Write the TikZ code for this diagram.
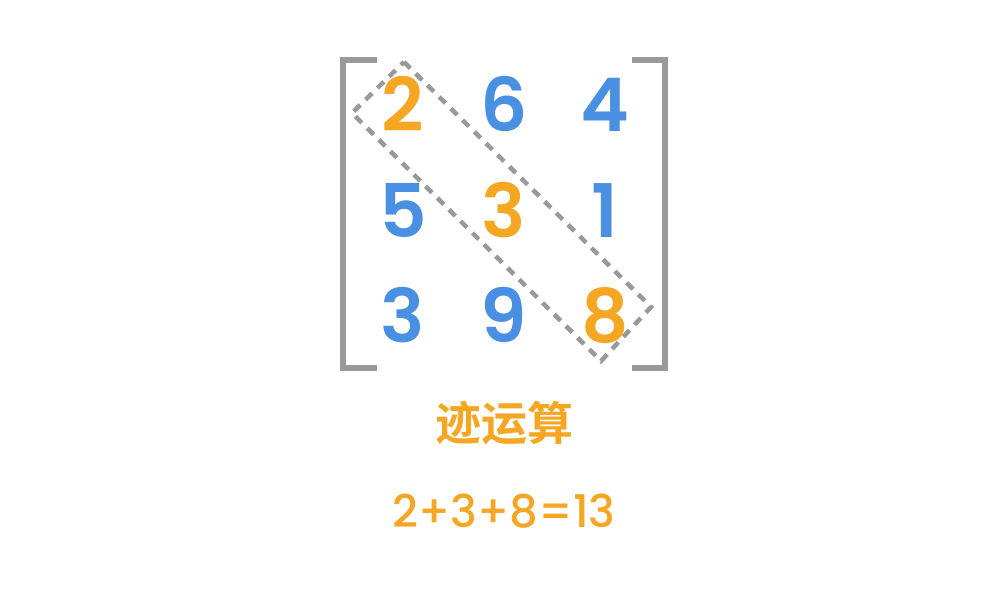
\documentclass[tikz,border=0pt]{standalone}
\usepackage{fontspec}
\setmainfont{Poppins SemiBold}
\newfontfamily\eqfont{Poppins Medium}
\newfontfamily\cjk{Noto Sans CJK SC Bold}
\definecolor{myorange}{HTML}{F5A623}
\definecolor{myblue}{HTML}{4A90E2}
\definecolor{mygray}{HTML}{999999}
\begin{document}
\begin{tikzpicture}[x=1pt,y=-1pt,
  num/.style={font=\fontsize{74}{74}\selectfont, anchor=base, inner sep=0pt},
  diag/.style={num, text=myorange},
  off/.style={num, text=myblue},
  brk/.style={draw=mygray, line width=6.5pt},
  tracebox/.style={draw=mygray, line width=4.5pt, dash pattern=on 9pt off 7.5pt},
  lab/.style={text=myorange, inner sep=0pt}]
\useasboundingbox (0,0) rectangle (1008,596);
% matrix entries
\node[diag] (a11) at (403,132) {2};
\node[off]  (a12) at (504,132) {6};
\node[off]  (a13) at (605,132) {4};
\node[off]  (a21) at (403,237) {5};
\node[diag] (a22) at (504,237) {3};
\node[off]  (a23) at (605,237) {1};
\node[off]  (a31) at (403,342) {3};
\node[off]  (a32) at (504,342) {9};
\node[diag] (a33) at (605,342) {8};
% brackets
\draw[brk] (377,60) -- (343,60) -- (343,368) -- (377,368);
\draw[brk] (632,60) -- (665,60) -- (665,368) -- (632,368);
% dashed box around diagonal
\coordinate (bt) at (404,62);
\coordinate (bl) at (352,113);
\coordinate (bb) at (601,361);
\coordinate (br) at (651,307);
\draw[tracebox] (bt) -- (br) -- (bb) -- (bl) -- cycle;
% labels
\node[lab, font=\cjk\fontsize{46}{46}\selectfont] (title) at (504,423) {迹运算};
\node[lab, font=\eqfont\fontsize{45}{45}\selectfont, anchor=base] (eq) at (504,527) {2+3+8=13};
\end{tikzpicture}
\end{document}
